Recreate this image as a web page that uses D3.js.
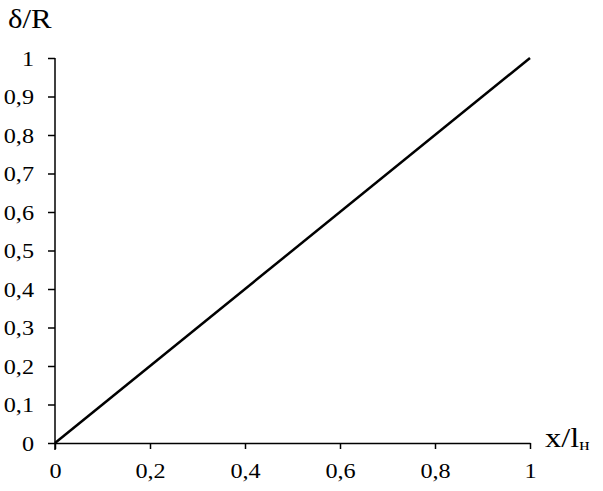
<!DOCTYPE html>
<html><head><meta charset="utf-8">
<script src="https://cdn.jsdelivr.net/npm/d3@7"></script>
<style>body{margin:0;background:#fff}</style>
</head><body>
<svg id="c" width="603" height="491"></svg>
<script>
const xTicks = [0, 0.2, 0.4, 0.6, 0.8, 1];
const yTicks = [0, 0.1, 0.2, 0.3, 0.4, 0.5, 0.6, 0.7, 0.8, 0.9, 1];
const xValues = [0, 1];
const yValues = [0, 1];

const svg = d3.select("#c");
const font = "'Liberation Serif', 'Times New Roman', serif";
const x = d3.scaleLinear().domain([0, 1]).range([55, 530]);
const y = d3.scaleLinear().domain([0, 1]).range([443, 58]);
const fmt = d => String(d).replace(".", ",");

const xa = svg.append("g").attr("transform", `translate(0,${y(0)})`)
  .call(d3.axisBottom(x).tickValues(xTicks).tickFormat(fmt).tickSize(6).tickSizeOuter(0));
const ya = svg.append("g").attr("transform", `translate(${x(0)},0)`)
  .call(d3.axisLeft(y).tickValues(yTicks).tickFormat(fmt).tickSize(7).tickSizeOuter(0));
[xa, ya].forEach(a => {
  a.selectAll("path,line").attr("stroke", "#000").attr("stroke-width", 1.5);
  a.selectAll("text").attr("font-family", font).attr("font-size", 22).attr("fill", "#000");
});
xa.selectAll(".tick text").attr("x", 0).attr("y", 0).attr("dy", 0)
  .attr("transform", "translate(0,35) scale(1.1,1)");
ya.selectAll(".tick text").attr("x", 0).attr("y", 0).attr("dy", "0.34em")
  .attr("transform", "translate(-21,0) scale(1.1,1)");
ya.select(".domain").attr("d", `M0,${y(1)}V${y(0)+7}`);

const pts = xValues.map((v, i) => [v, yValues[i]]);
svg.append("path").datum(pts)
  .attr("d", d3.line().x(d => x(d[0])).y(d => y(d[1])))
  .attr("fill", "none").attr("stroke", "#000").attr("stroke-width", 2.5);

svg.append("text").attr("transform", "translate(8,28) scale(1.1,1)")
  .attr("font-family", font).attr("font-size", 28).text("δ/R");
const t = svg.append("text").attr("transform", "translate(545,447) scale(1.2,1)")
  .attr("font-family", font).attr("font-size", 27);
t.append("tspan").text("x/l");
t.append("tspan").attr("font-size", 16).attr("dy", 3).text("н");
</script>
</body></html>
